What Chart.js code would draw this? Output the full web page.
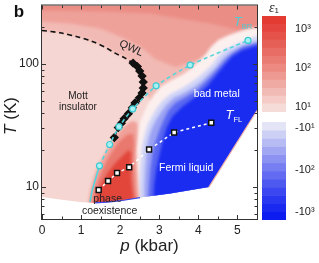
<!DOCTYPE html>
<html>
<head>
<meta charset="utf-8">
<title>phase diagram</title>
<script src="https://cdn.jsdelivr.net/npm/chart.js@4.4.1/dist/chart.umd.min.js"></script>
<style>
  html, body { margin: 0; padding: 0; background: #ffffff; }
  #figure { position: relative; width: 319px; height: 263px; overflow: hidden; }
  #figure canvas { position: absolute; }
</style>
</head>
<body>
<div id="figure">
  <canvas id="phase-chart" width="319" height="263" style="left:0;top:0;"></canvas>
  <canvas id="colorbar-pos" width="57" height="118" style="left:262px;top:0;"></canvas>
  <canvas id="colorbar-neg" width="57" height="145" style="left:262px;top:118px;"></canvas>
</div>
<script>
"use strict";
const FONT = '"Liberation Sans", Arial, sans-serif';

// axis ticks
const X_TICKS = [0, 1, 2, 3, 4, 5];
const X_MINOR = [0.5, 1.5, 2.5, 3.5, 4.5];
const Y_TICKS = [10, 100];
const Y_MINOR = [6, 7, 8, 9, 20, 30, 40, 50, 60, 70, 80, 90, 200];

// lines and markers (p in kbar, T in K)
const QWL_P = [0, 0.46, 0.97, 1.36, 1.62, 1.87, 2.13, 2.33];
const QWL_T = [188, 180, 165, 150, 137, 123, 112, 102];
const DIAMOND_P = [2.33, 2.44, 2.5, 2.56, 2.59, 2.59, 2.56, 2.49, 2.38, 2.31, 2.21, 2.1, 2.03, 1.95, 1.85];
const DIAMOND_T = [102, 95.5, 87.8, 80, 71.6, 64, 58.3, 53.2, 48.4, 44.2, 39.5, 36, 33.1, 30.5, 25.3];
const TBR_P = [1.47, 1.73, 1.97, 2.32, 2.92, 3.79, 5.27];
const TBR_T = [14.9, 22.2, 31.0, 43.2, 66.6, 98.2, 156];
const TBR_TAIL_P = [1.23, 1.27, 1.36, 1.47];
const TBR_TAIL_T = [7.57, 8.96, 11.4, 14.9];
const TFL_P = [1.45, 1.69, 1.92, 2.23, 2.74, 3.38, 4.33];
const TFL_T = [9.46, 11.2, 13.0, 14.5, 20.2, 27.8, 33.4];

// eps1 map, read as contour outlines
const DOMAIN_P = [0, 5.5, 5.5, 4.27, 3.28, 2.51, 2.13, 1.74, 1.36, 0.97, 0.46, 0];
const DOMAIN_T = [300, 300, 42, 10.0, 8.87, 8.22, 7.85, 7.57, 7.43, 7.57, 7.93, 8.3];
const UPPER1_P = [-0.1, 5.7, 5.7, 2.95, 2.7, 2.59, 2.56, 2.44, 2.33, 2.13, 1.87, 1.62, 1.36, 0.97, 0.46, 0, -0.1];
const UPPER1_T = [400, 400, 45, 45, 55, 71.6, 80, 95.5, 102, 112, 123, 137, 150, 165, 180, 188, 188];
const UPPER2_P = [-0.1, 5.7, 5.7, 5.51, 4.82, 4.05, 3.41, 2.9, 2.51, 2.0, 1.49, 0.72, 0, -0.1];
const UPPER2_T = [400, 400, 162, 162, 135, 110, 95, 110, 140, 168, 195, 214, 222, 222];
const UPPER3_P = [-0.1, 5.7, 5.7, 5.51, 4.95, 4.31, 3.54, 2.77, 1.74, 0.72, 0, -0.1];
const UPPER3_T = [400, 400, 178, 178, 191, 214, 235, 258, 267, 272, 272, 272];
const HALO_P = [2.31, 2.34, 2.36, 2.38, 2.41, 2.45, 2.51, 2.61, 2.72, 2.87, 3.05, 3.31, 3.6, 3.82, 4.0, 4.18, 4.33, 4.51, 4.74, 5.0, 5.26, 5.51, 5.7, 5.7, 2.31];
const HALO_T = [7.85, 10.4, 13.7, 18.1, 21.8, 27.5, 34, 40.5, 48, 57, 66, 74, 82.5, 92, 105, 120, 139, 157, 170, 183, 194, 200, 200, 6, 6];
const BLUE1_P = [2.49, 2.49, 2.51, 2.54, 2.56, 2.62, 2.69, 2.79, 2.92, 3.08, 3.28, 3.54, 3.79, 4.0, 4.18, 4.36, 4.51, 4.69, 4.9, 5.13, 5.33, 5.51, 5.7, 5.7, 2.49];
const BLUE1_T = [7.85, 10.4, 13.7, 18.1, 21.8, 26.3, 31.6, 36.7, 43.4, 50.3, 57.3, 62.8, 70.4, 78.5, 87.8, 100, 116, 132, 142, 153, 162, 171, 171, 6, 6];
const BLUE2_P = [2.62, 2.62, 2.64, 2.67, 2.69, 2.74, 2.82, 2.92, 3.05, 3.18, 3.38, 3.64, 3.9, 4.1, 4.28, 4.46, 4.62, 4.79, 5.0, 5.23, 5.51, 5.7, 5.7, 2.62];
const BLUE2_T = [7.85, 10.4, 13.7, 18.1, 21.8, 25.8, 30.5, 35.3, 41.0, 46.7, 53.2, 58.3, 65.3, 72.9, 83.0, 94.6, 110, 123, 135, 145, 153, 153, 6, 6];
const BLUE3_P = [2.72, 2.74, 2.77, 2.82, 2.87, 2.95, 3.03, 3.13, 3.23, 3.41, 3.69, 3.97, 4.18, 4.36, 4.54, 4.72, 4.9, 5.13, 5.51, 5.7, 5.7, 2.72];
const BLUE3_T = [7.85, 10.4, 13.7, 18.1, 21.8, 25.8, 30.5, 36.0, 41.8, 48.4, 54.2, 61.6, 71.6, 81.5, 94.6, 110, 123, 137, 148, 148, 6, 6];
const BLUE4_P = [2.85, 2.87, 2.92, 3.0, 3.08, 3.18, 3.33, 3.59, 3.9, 4.23, 4.46, 4.67, 4.87, 5.13, 5.51, 5.7, 5.7, 2.85];
const BLUE4_T = [7.85, 10.4, 13.7, 18.1, 23.1, 29.9, 37.4, 45.0, 53.2, 66.5, 81.5, 98.2, 116, 130, 142, 142, 6, 6];
const RED1_P = [1.18, 1.23, 1.31, 1.41, 1.54, 1.69, 1.85, 2.0, 2.15, 2.31, 2.44, 2.44, 2.41, 2.44, 2.46, 2.49];
const RED1_T = [7.16, 9.12, 11.4, 14.2, 17.1, 20.6, 24.8, 28.8, 32.2, 34.7, 33.4, 26.3, 19.9, 13.7, 10.4, 7.16];
const RED2_P = [1.28, 1.33, 1.44, 1.56, 1.69, 1.85, 2.0, 2.18, 2.33, 2.36, 2.33, 2.36, 2.38, 2.44];
const RED2_T = [7.16, 9.12, 11.4, 14.2, 17.1, 20.6, 23.9, 26.7, 27.2, 21.8, 16.5, 12.5, 9.46, 7.16];
const RED3_P = [1.36, 1.44, 1.54, 1.69, 1.87, 2.05, 2.21, 2.28, 2.28, 2.28, 2.33, 2.38];
const RED3_T = [7.16, 9.12, 11.0, 13.2, 15.6, 17.8, 19.9, 19.1, 15.0, 11.4, 8.62, 7.16];
const BOTTOM_EDGE_P = [1.36, 1.74, 2.13, 2.51];
const BOTTOM_EDGE_T = [7.43, 7.57, 7.85, 8.22];
const SIDE_EDGE_P = [4.27, 5.5];
const SIDE_EDGE_T = [10.0, 42];

// colour bar levels
const CB_RED_EDGES = [7.4, 12, 19, 30, 49, 78, 126, 200, 320, 520, 830, 1330, 2140];
const CB_BLUE_EDGES = [7.2, 11.3, 17.7, 27.7, 43.3, 67.6, 106, 165, 258, 404, 631, 986, 1540];
const CB_TICKS = [10, 100, 1000];
const CB_RED_LABELS = ["10\u00b9", "10\u00b2", "10\u00b3"];
const CB_BLUE_LABELS = ["-10\u00b9", "-10\u00b2", "-10\u00b3"];

const CB_RED_COLORS = ["#f6dcd9", "#f4cbc7", "#f2bab5", "#f0aaa4", "#ee9a93", "#ec8a82",
  "#ea7b73", "#e86d64", "#e65f56", "#e5524a", "#e4453e", "#e33a31"];
const CB_BLUE_COLORS = ["#e3e5f7", "#cdd0f5", "#b7bbf4", "#a1a7f3", "#8b92f2", "#767ef1",
  "#626bf1", "#4e59f0", "#3b47f0", "#2a37f0", "#1a29f0", "#0c1cf0"];

const BASE_COLOR = "#f6d6d2";
const REGIONS = [
  { p: UPPER1_P, t: UPPER1_T, color: "#f2bab4" },
  { p: UPPER2_P, t: UPPER2_T, color: "#eea199" },
  { p: UPPER3_P, t: UPPER3_T, color: "#ea8d85" },
  { p: HALO_P, t: HALO_T, color: "#fcf0ef" },
  { p: BLUE1_P, t: BLUE1_T, color: "#d0d4f7" },
  { p: BLUE2_P, t: BLUE2_T, color: "#9ba2f3" },
  { p: BLUE3_P, t: BLUE3_T, color: "#5866f1" },
  { p: BLUE4_P, t: BLUE4_T, color: "#1a2cf0" },
  { p: RED1_P, t: RED1_T, color: "#f0a199" },
  { p: RED2_P, t: RED2_T, color: "#e9786e" },
  { p: RED3_P, t: RED3_T, color: "#e2463b" },
];
const EDGES = [
  { p: BOTTOM_EDGE_P, t: BOTTOM_EDGE_T, color: "#3a48ec", width: 1.2 },
  { p: SIDE_EDGE_P, t: SIDE_EDGE_T, color: "#f2b3ab", width: 1.2 },
];

const toPoints = (ps, ts) => ps.map((p, i) => ({ x: p, y: ts[i] }));

function tracePolygon(chart, ps, ts, close) {
  const ctx = chart.ctx;
  const xs = chart.scales.x;
  const ys = chart.scales.y;
  ctx.beginPath();
  ps.forEach((p, i) => {
    const x = xs.getPixelForValue(p);
    const y = ys.getPixelForValue(ts[i]);
    if (i === 0) ctx.moveTo(x, y);
    else ctx.lineTo(x, y);
  });
  if (close) ctx.closePath();
}

function drawParts(ctx, parts, x, y, color, angle) {
  ctx.save();
  ctx.translate(x, y);
  if (angle) ctx.rotate(angle);
  ctx.fillStyle = color;
  ctx.textBaseline = "middle";
  ctx.textAlign = "left";
  let total = 0;
  parts.forEach((part) => {
    ctx.font = part.font;
    part.w = ctx.measureText(part.text).width;
    total += part.w;
  });
  let cx = -total / 2;
  parts.forEach((part) => {
    ctx.font = part.font;
    ctx.fillText(part.text, cx, part.dy || 0);
    cx += part.w;
  });
  ctx.restore();
}

const heatmapPlugin = {
  id: "heatmap",
  beforeDatasetsDraw(chart) {
    const ctx = chart.ctx;
    const area = chart.chartArea;
    ctx.save();
    ctx.beginPath();
    ctx.rect(area.left, area.top, area.width, area.height);
    ctx.clip();
    tracePolygon(chart, DOMAIN_P, DOMAIN_T, true);
    ctx.fillStyle = BASE_COLOR;
    ctx.fill();
    ctx.clip();
    ctx.filter = "blur(1.6px)";
    REGIONS.forEach((region) => {
      tracePolygon(chart, region.p, region.t, true);
      ctx.fillStyle = region.color;
      ctx.fill();
    });
    ctx.restore();
    ctx.save();
    ctx.beginPath();
    ctx.rect(area.left, area.top, area.width, area.height);
    ctx.clip();
    EDGES.forEach((edge) => {
      tracePolygon(chart, edge.p, edge.t, false);
      ctx.strokeStyle = edge.color;
      ctx.lineWidth = edge.width;
      ctx.stroke();
    });
    ctx.restore();
  },
};

const ANNOTATIONS = [
  { p: 0.92, t: 55.2, color: "#222", parts: [{ text: "Mott", font: `10px ${FONT}` }] },
  { p: 0.92, t: 44.2, color: "#222", parts: [{ text: "insulator", font: `10px ${FONT}` }] },
  { p: 4.47, t: 57.3, color: "#ffffff", parts: [{ text: "bad metal", font: `10.5px ${FONT}` }] },
  { p: 3.69, t: 14.2, color: "#ffffff", parts: [{ text: "Fermi liquid", font: `10.5px ${FONT}` }] },
  { p: 1.68, t: 8.0, color: "#222", parts: [{ text: "phase", font: `10.5px ${FONT}` }] },
  { p: 1.73, t: 6.4, color: "#222", parts: [{ text: "coexistence", font: `10.5px ${FONT}` }] },
  { p: 2.28, t: 134.6, color: "#222", angle: 0.44, parts: [{ text: "QWL", font: `11px ${FONT}` }] },
  { p: 4.91, t: 38.1, color: "#ffffff", parts: [
    { text: "T", font: `italic 13px ${FONT}` }, { text: "FL", font: `7.5px ${FONT}`, dy: 4 }] },
  { p: 5.14, t: 218, color: "#4fcad3", parts: [
    { text: "T", font: `italic 13px ${FONT}` }, { text: "BR", font: `7.5px ${FONT}`, dy: 4 }] },
];

const annotationPlugin = {
  id: "annotations",
  afterDatasetsDraw(chart) {
    const ctx = chart.ctx;
    ANNOTATIONS.forEach((a) => {
      const x = chart.scales.x.getPixelForValue(a.p);
      const y = chart.scales.y.getPixelForValue(a.t);
      drawParts(ctx, a.parts, x, y, a.color, a.angle);
    });
  },
};

const framePlugin = {
  id: "frame",
  afterDraw(chart) {
    const ctx = chart.ctx;
    const area = chart.chartArea;
    const xs = chart.scales.x;
    const ys = chart.scales.y;
    ctx.save();
    ctx.strokeStyle = "#333";
    ctx.lineWidth = 1;
    ctx.strokeRect(area.left - 0.5, area.top - 0.5, area.width + 1, area.height + 1);
    ctx.beginPath();
    const xTick = (v, len) => {
      const x = Math.round(xs.getPixelForValue(v)) + 0.5;
      ctx.moveTo(x, area.bottom); ctx.lineTo(x, area.bottom - len);
      ctx.moveTo(x, area.top); ctx.lineTo(x, area.top + len);
    };
    const yTick = (v, len) => {
      const y = Math.round(ys.getPixelForValue(v)) + 0.5;
      ctx.moveTo(area.left, y); ctx.lineTo(area.left + len, y);
      ctx.moveTo(area.right, y); ctx.lineTo(area.right - len, y);
    };
    X_TICKS.forEach((v) => xTick(v, 4));
    X_MINOR.forEach((v) => xTick(v, 2.5));
    Y_TICKS.forEach((v) => yTick(v, 4));
    Y_MINOR.forEach((v) => yTick(v, 2.5));
    ctx.stroke();
    ctx.restore();

    drawParts(ctx, [{ text: "T", font: `italic 17px ${FONT}` }, { text: " (K)", font: `17px ${FONT}` }],
      11, 116, "#222", -Math.PI / 2);
    drawParts(ctx, [{ text: "p", font: `italic 17px ${FONT}` }, { text: " (kbar)", font: `17px ${FONT}` }],
      149.5, 246, "#222");
    drawParts(ctx, [{ text: "b", font: `bold 17px ${FONT}` }], 19, 12, "#111");
    drawParts(ctx, [{ text: "\u03b5", font: 'italic 14px "Liberation Serif", serif' },
      { text: "1", font: `8px ${FONT}`, dy: 3 }], 274, 8, "#222");
  },
};

new Chart(document.getElementById("phase-chart"), {
  type: "scatter",
  data: {
    datasets: [
      {
        data: toPoints(TBR_P, TBR_T),
        showLine: true,
        borderColor: "#55d4dc",
        borderWidth: 1.6,
        borderDash: [4, 3],
        tension: 0.2,
        pointRadius: 3,
        pointBackgroundColor: "#a8f0f2",
        pointBorderColor: "#3ccad2",
        pointBorderWidth: 1.2,
      },
      {
        data: toPoints(TBR_TAIL_P, TBR_TAIL_T),
        showLine: true,
        borderColor: "#55d4dc",
        borderWidth: 1.6,
        tension: 0.2,
        pointRadius: 0,
      },
      {
        data: toPoints(DIAMOND_P, DIAMOND_T),
        showLine: true,
        borderColor: "#111",
        borderWidth: 1.5,
        pointStyle: "rectRot",
        pointRadius: 3.6,
        pointBackgroundColor: "#111",
        pointBorderColor: "#111",
      },
      {
        data: toPoints(QWL_P, QWL_T),
        showLine: true,
        borderColor: "#111",
        borderWidth: 1.6,
        borderDash: [5, 3.5],
        tension: 0.2,
        pointRadius: 0,
      },
      {
        data: toPoints(TFL_P, TFL_T),
        showLine: true,
        borderColor: "#ffffff",
        borderWidth: 1.5,
        borderDash: [3, 3],
        pointStyle: "rect",
        pointRadius: 3.5,
        pointBackgroundColor: "#ffffff",
        pointBorderColor: "#111",
        pointBorderWidth: 1.5,
      },
    ],
  },
  options: {
    responsive: false,
    animation: false,
    devicePixelRatio: 1,
    layout: { padding: { left: 0, right: 62, top: 4, bottom: 0 } },
    plugins: { legend: { display: false }, tooltip: { enabled: false } },
    scales: {
      x: {
        type: "linear",
        min: 0,
        max: 5.5,
        grid: { display: false, drawTicks: false },
        border: { display: false },
        ticks: { color: "#222", font: { family: FONT, size: 12 }, padding: 4, maxRotation: 0 },
        afterBuildTicks: (scale) => { scale.ticks = X_TICKS.map((v) => ({ value: v })); },
        afterFit: (scale) => { scale.height = 44; scale.paddingLeft = 0; scale.paddingRight = 0; },
      },
      y: {
        type: "logarithmic",
        min: 5.5,
        max: 300,
        grid: { display: false, drawTicks: false },
        border: { display: false },
        ticks: { color: "#222", font: { family: FONT, size: 12 }, padding: 3, callback: (v) => String(v) },
        afterBuildTicks: (scale) => { scale.ticks = Y_TICKS.map((v) => ({ value: v })); },
        afterFit: (scale) => { scale.width = 42; scale.paddingTop = 0; scale.paddingBottom = 0; },
      },
    },
  },
  plugins: [heatmapPlugin, annotationPlugin, framePlugin],
});

function colorbar(canvasId, edges, colors, labels, reverse, padding) {
  const datasets = colors.map((color, i) => ({
    data: [[edges[i], edges[i + 1]]],
    backgroundColor: color,
    borderWidth: 0,
    grouped: false,
    barPercentage: 1,
    categoryPercentage: 1,
  }));
  return new Chart(document.getElementById(canvasId), {
    type: "bar",
    data: { labels: [""], datasets: datasets },
    options: {
      responsive: false,
      animation: false,
      devicePixelRatio: 1,
      layout: { padding: padding },
      plugins: { legend: { display: false }, tooltip: { enabled: false } },
      scales: {
        x: { display: false },
        y: {
          type: "logarithmic",
          position: "right",
          min: edges[0],
          max: edges[edges.length - 1],
          reverse: reverse,
          grid: { display: false, drawTicks: false },
          border: { display: false },
          ticks: {
            color: "#222",
            font: { family: FONT, size: 11 },
            padding: 9,
            callback: (v) => labels[CB_TICKS.indexOf(v)] || "",
          },
          afterBuildTicks: (scale) => { scale.ticks = CB_TICKS.map((v) => ({ value: v })); },
          afterFit: (scale) => { scale.width = 33; scale.paddingTop = 0; scale.paddingBottom = 0; },
        },
      },
    },
  });
}

colorbar("colorbar-pos", CB_RED_EDGES, CB_RED_COLORS, CB_RED_LABELS, false,
  { top: 16, bottom: 6, left: 0, right: 0 });
colorbar("colorbar-neg", CB_BLUE_EDGES, CB_BLUE_COLORS, CB_BLUE_LABELS, true,
  { top: 4, bottom: 43, left: 0, right: 0 });
</script>
</body>
</html>
